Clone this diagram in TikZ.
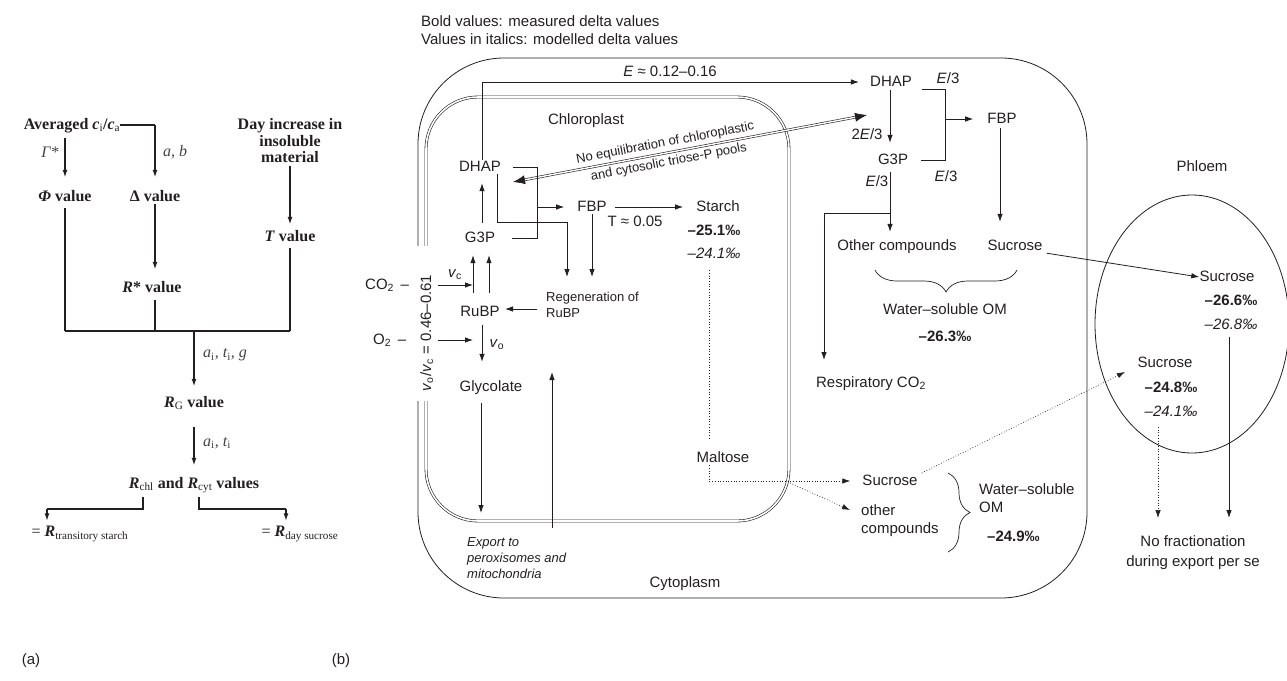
\documentclass[tikz,border=0pt]{standalone}
\usepackage{fontspec}
\setmainfont{Liberation Serif}
\setsansfont{Liberation Sans}
\usetikzlibrary{arrows.meta,decorations.pathreplacing,calc}
\definecolor{ink}{RGB}{35,31,32}
\tikzset{
  sf/.style={font=\sffamily\fontsize{15}{18}\selectfont, text=ink, inner sep=0pt, text height=11pt, text depth=3pt},
  sfb/.style={sf, font=\sffamily\bfseries\fontsize{15}{18}\selectfont},
  sfi/.style={sf, font=\sffamily\itshape\fontsize{15}{18}\selectfont},
  sfm/.style={font=\sffamily\fontsize{15}{18}\selectfont, text=ink, inner sep=0pt, align=left},
  sfs/.style={font=\sffamily\fontsize{13}{16}\selectfont, text=ink, inner sep=0pt},
  tb/.style={font=\bfseries\fontsize{16}{16.5}\selectfont, text=ink, inner sep=0pt, text height=11pt, text depth=3pt},
  tbm/.style={font=\bfseries\fontsize{16}{16.5}\selectfont, text=ink, inner sep=0pt, align=center},
  trg/.style={font=\fontsize{16}{16}\selectfont, text=ink, inner sep=0pt, text height=11pt, text depth=4pt},
  tl/.style={font=\itshape\fontsize{16}{16}\selectfont, text=ink!85, inner sep=0pt},
  ln/.style={draw=ink, line width=0.8pt},
  arr/.style={draw=ink, line width=0.8pt, -{Latex[length=8pt,width=5.5pt]}},
  thk/.style={draw=ink, line width=1.6pt, -{Latex[length=8pt,width=5pt]}},
  thn/.style={draw=ink, line width=1.1pt},
  dotln/.style={draw=ink, line width=0.7pt, dotted},
  dotarr/.style={draw=ink, line width=0.7pt, dotted, -{Latex[length=8pt,width=5.5pt]}},
  dblarr/.style={draw=ink, line width=0.6pt, double=white, double distance=1.4pt, {Latex[length=12pt,width=9pt]}-{Latex[length=12pt,width=9pt]}},
  brc/.style={draw=ink, line width=0.7pt, decorate, decoration={brace, amplitude=22pt}},
}
\begin{document}
\begin{tikzpicture}[x=1pt,y=-1pt]
\useasboundingbox (0,0) rectangle (1287,680);

% ================= panel (a) =================
\node[tb] (avg) at (72,125) {Averaged \textit{c}\textsubscript{\mdseries i}/\textit{c}\textsubscript{\mdseries a}};
\node[tb] (phi) at (65,197) {\textit{Φ} value};
\node[tb] (delta) at (155,197) {Δ value};
\node[tb] (rstar) at (152,288) {\textit{R}* value};
\node[tbm] (day) at (290,141) {Day increase in\\insoluble\\material};
\node[tb] (tval) at (290,237) {\textit{T} value};
\node[tb] (rg) at (194,403) {\textit{R}\textsubscript{\mdseries G} value};
\node[tb] (rchl) at (194,484) {\textit{R}\textsubscript{\mdseries chl} and \textit{R}\textsubscript{\mdseries cyt} values};
\node[trg] (rts) at (80,533) {= \textbf{\textit{R}}\textsubscript{transitory starch}};
\node[trg] (rds) at (300,533) {= \textbf{\textit{R}}\textsubscript{day sucrose}};

\node[tl] (lgam) at (50,152) {\textit{Γ}*};
\node[tl, anchor=west] (lab) at (163,152) {a, b};
\node[tl, anchor=west] (laitig) at (203,355) {a\textsubscript{\upshape i}, t\textsubscript{\upshape i}, g};
\node[tl, anchor=west] (lait) at (203,443) {a\textsubscript{\upshape i}, t\textsubscript{\upshape i}};

\coordinate (abT) at (155,125);
\coordinate (jL) at (65,331);
\coordinate (jR) at (290,331);
\coordinate (jM) at (194,331);
\coordinate (sL) at (143,497);
\coordinate (sR) at (199,497);
\coordinate (bL) at (47,509);
\coordinate (bR) at (286,509);

\draw[thn] (avg.east) -- (abT);
\draw[thk, shorten >=12pt] (abT) -- (delta.north);
\draw[thk, shorten <=6pt, shorten >=12pt] (avg.south -| phi.north) -- (phi.north);
\draw[thk, shorten >=11pt] (delta.south) -- (delta.south |- rstar.north);
\draw[thk, shorten <=3pt, shorten >=5pt] (day.south) -- (tval.north);
\draw[thn, shorten <=4pt] (phi.south) -- (jL);
\draw[thn, shorten <=5pt] (delta |- rstar.south) -- (delta |- jL);
\draw[thn, shorten <=4pt] (tval.south) -- (jR);
\draw[thn] (jL) -- (jR);
\draw[thk, shorten >=9pt] (jM) -- (rg.north);
\draw[thk, shorten <=17pt, shorten >=11pt] (rg.south) -- (rchl.north);
\draw[thn] (sL) |- (bL);
\draw[thk, shorten >=4pt] (bL) -- (bL |- rts.north);
\draw[thn] (sR) |- (bR);
\draw[thk, shorten >=4pt] (bR) -- (bR |- rds.north);

\node[sf] (pa) at (31,660) {(a)};
\node[sf] (pb) at (341,660) {(b)};

% ================= panel (b) =================
\node[sf, anchor=west] (t1) at (421,22) {Bold values: measured delta values};
\node[sf, anchor=west] (t2) at (421,40) {Values in italics: modelled delta values};

% compartments
\draw[ln, rounded corners=86pt] (418,58) rectangle (1087,598);
\draw[draw=ink, line width=0.6pt, double=white, double distance=1.6pt, rounded corners=52pt] (426,97) rectangle (789,521);
\fill[white] (411,246) rectangle (435,401);
\draw[ln] (1192,324) ellipse (97 and 129);

\node[sf] (chl) at (586,120) {Chloroplast};
\node[sf] (cyt) at (685,583) {Cytoplasm};
\node[sf] (phl) at (1202,167) {Phloem};

% chloroplast nodes
\node[sf] (dhapC) at (480,167) {DHAP};
\node[sf] (g3pC) at (480,238) {G3P};
\node[sf] (fbpC) at (592,207) {FBP};
\node[sf] (starch) at (718,207) {Starch};
\node[sfb] (st1) at (714,231) {–25.1‰};
\node[sfi] (st2) at (714,254) {–24.1‰};
\node[sf] (tlab) at (635,222) {T ≈ 0.05};
\node[sfs, anchor=north west, align=left] (regen) at (546,292) {Regeneration of\\RuBP};
\node[sf] (rubp) at (480,312) {RuBP};
\node[sf, anchor=west] (co2) at (365,285) {CO\textsubscript{2} \,–};
\node[sf, anchor=west] (o2) at (373,340) {O\textsubscript{2} \,–};
\node[sf] (vc) at (455,273) {\textit{v}\textsubscript{c}};
\node[sf] (vo) at (497,343) {\textit{v}\textsubscript{o}};
\node[sf] (glyc) at (491,387) {Glycolate};
\node[sfs, font=\sffamily\itshape\fontsize{13}{16}\selectfont, anchor=north west, align=left] (expo) at (467,537) {Export to\\peroxisomes and\\mitochondria};
\node[sf, rotate=90] (ratio) at (427,333) {\textit{v}\textsubscript{o}/\textit{v}\textsubscript{c} = 0.46–0.61};
\node[sf] (malt) at (723,458) {Maltose};

% cytosol nodes
\node[sf] (dhapY) at (891,82) {DHAP};
\node[sf] (g3pY) at (893,160) {G3P};
\node[sf] (fbpY) at (1002,119) {FBP};
\node[sf] (otherY) at (897,246) {Other compounds};
\node[sf] (sucY) at (1015,246) {Sucrose};
\node[sf] (wsom) at (945,310) {Water–soluble OM};
\node[sfb] (wsv) at (945,337) {–26.3‰};
\node[sf] (resp) at (871,383) {Respiratory CO\textsubscript{2}};
\node[sf] (elab) at (670,72) {\textit{E} ≈ 0.12–0.16};
\node[sf] (l2e) at (867,135) {2\textit{E}/3};
\node[sf] (le1) at (948,79) {\textit{E}/3};
\node[sf] (le2) at (946,177) {\textit{E}/3};
\node[sf] (le3) at (877,182) {\textit{E}/3};

\node[sf] (sucL) at (890,481) {Sucrose};
\node[sfm, anchor=west] (othL) at (861,521) {other\\compounds};
\node[sfm, anchor=west] (wsom2) at (979,498) {Water–soluble\\OM};
\node[sfb, anchor=west] (wsv2) at (987,537) {–24.9‰};

% phloem nodes
\node[sf] (sucP1) at (1227,277) {Sucrose};
\node[sfb] (p1a) at (1231,301) {–26.6‰};
\node[sfi] (p1b) at (1231,325) {–26.8‰};
\node[sf] (sucP2) at (1165,363) {Sucrose};
\node[sfb] (p2a) at (1171,388) {–24.8‰};
\node[sfi] (p2b) at (1171,412) {–24.1‰};
\node[sfm, align=center, font=\sffamily\fontsize{15}{20}\selectfont] (nofr) at (1193,553) {No fractionation\\during export per se};

% coordinates for connector bends / free ends
\coordinate (eTop) at (482,82);
\coordinate (eqL) at (513,182);
\coordinate (eqR) at (867,115);
\coordinate (bkT) at (537,167);
\coordinate (bkM) at (537,207);
\coordinate (bkB) at (537,238);
\coordinate (dl1) at (497,222);
\coordinate (dl2) at (567,222);
\coordinate (rgA) at (567,277);
\coordinate (co2a) at (438,285);
\coordinate (co2b) at (473,285);
\coordinate (o2a) at (438,340);
\coordinate (o2b) at (473,340);
\coordinate (rgS) at (537,309);
\coordinate (rgE) at (505,309);
\coordinate (gdA) at (481,403);
\coordinate (gdB) at (481,513);
\coordinate (upA) at (552,528);
\coordinate (upB) at (552,372);
\coordinate (mc) at (709,481);
\coordinate (mb) at (790,483);
\coordinate (mbE) at (850,510);
\coordinate (cbT) at (945,89);
\coordinate (cbM) at (945,119);
\coordinate (cbB) at (945,160);
\coordinate (brn) at (890,213);
\coordinate (brnL) at (824,213);
\coordinate (respA) at (824,360);
\coordinate (phE) at (1125,372);
\coordinate (pdA) at (1158,427);
\coordinate (pdB) at (1158,518);
\coordinate (psA) at (1229,337);
\coordinate (psB) at (1229,518);

% E line
\draw[arr, shorten >=11pt] ([xshift=2pt]dhapC.north) -- (eTop) -- (dhapY.west);
% no equilibration double arrow
\draw[dblarr] (eqL) -- (eqR);
\path (eqL) -- (eqR)
  node[pos=0.435, sloped, above=3.5pt, sfs] (neq1) {No equilibration of chloroplastic}
  node[pos=0.435, sloped, below=3.5pt, sfs] (neq2) {and cytosolic triose-P pools};

% chloroplast connectors
\draw[ln] ([xshift=12pt]dhapC.east) -- (bkT) -- (bkB) -- ([xshift=17pt]g3pC.east);
\draw[arr, shorten >=13pt] (bkM) -- (fbpC.west);
\draw[arr] (dhapC.south -| dl1) -- (dl1) -- (dl2) -- (rgA);
\draw[arr] (fbpC.south) -- (fbpC.south |- rgA);
\draw[arr, shorten <=8pt, shorten >=13pt] (fbpC.east) -- (starch.west);
\draw[arr, shorten <=8pt, shorten >=9pt] ([xshift=2pt]g3pC.north) -- ([xshift=2pt]dhapC.south);
\draw[arr, shorten <=12pt, shorten >=10pt] ([xshift=-7pt]rubp.north) -- ([xshift=-7pt]g3pC.south);
\draw[arr, shorten <=12pt, shorten >=10pt] ([xshift=9pt]rubp.north) -- ([xshift=9pt]g3pC.south);
\draw[arr] (co2a) -- (co2b);
\draw[arr] (o2a) -- (o2b);
\draw[arr] (rgS) -- (rgE);
\draw[arr, shorten <=6pt, shorten >=18pt] ([xshift=2pt]rubp.south) -- ([xshift=2pt]rubp.south |- glyc.north);
\draw[arr] (gdA) -- (gdB);
\draw[arr] (upA) -- (upB);

% starch -> maltose -> cytosol (dotted)
\draw[dotln, shorten <=9pt, shorten >=11pt] (st2.south -| mc) -- (malt.north -| mc);
\draw[dotarr, shorten >=12pt] (malt.south -| mc) -- (mc) -- (sucL.west);
\draw[dotarr] (mb) -- (mbE);
\draw[dotarr] ([shift={(4,-8)}]sucL.east) -- (phE);

% cytosol connectors
\draw[arr, shorten <=1pt, shorten >=10pt] ([xshift=-1pt]dhapY.south) -- ([xshift=-1pt]dhapY.south |- g3pY.north);
\draw[ln] ([xshift=10pt]dhapY.east |- cbT) -- (cbT) -- (cbB) -- ([xshift=13pt]g3pY.east |- cbB);
\draw[arr, shorten >=14pt] (cbM) -- (fbpY.west);
\draw[arr, shorten <=2pt, shorten >=17pt] ([xshift=-2pt]fbpY.south) -- ([xshift=-2pt]fbpY.south |- sucY.north);
\draw[arr, shorten <=5pt, shorten >=7pt] ([xshift=-3pt]g3pY.south) -- ([xshift=-3pt]g3pY.south |- otherY.north);
\draw[arr] (brn) -- (brnL) -- (respA);
\draw[arr] ([xshift=4pt]sucY.south east) -- (sucP1.west);
\draw[brc] (1017,270) -- (875,270);
\draw[brc] (948,473) -- (948,552);

% phloem connectors
\draw[dotarr] (pdA) -- (pdB);
\draw[arr] (psA) -- (psB);
\end{tikzpicture}
\end{document}
